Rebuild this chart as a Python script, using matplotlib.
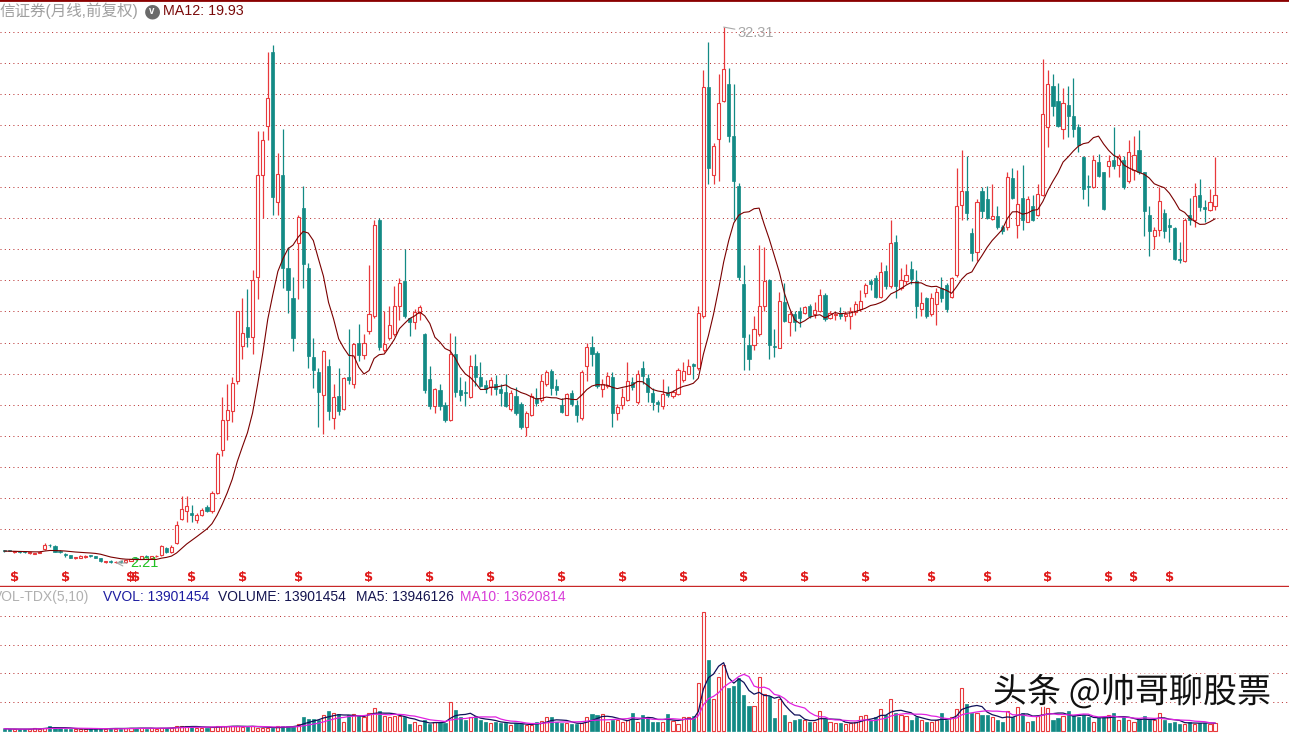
import numpy as np
import pandas as pd
import matplotlib
matplotlib.use('Agg')
import matplotlib.pyplot as plt
import matplotlib.patheffects as pe

plt.rcParams['font.family'] = ['Liberation Sans', 'Noto Sans CJK SC', 'DejaVu Sans']

# ---- monthly bars (prices, front-adjusted) ----
opens = [2.92, 2.90, 2.85, 2.85, 2.84, 2.78, 2.74, 2.80, 3.00, 3.22, 3.18, 2.85, 2.70, 2.65, 2.50, 2.52, 2.55, 2.62, 2.58, 2.48,
         2.28, 2.35, 2.24, 2.32, 2.25, 2.35, 2.50, 2.45, 2.62, 2.52, 2.58, 2.65, 3.05, 2.85, 3.35,
         4.68, 5.13, 5.02, 4.63, 4.91, 5.36, 5.13, 6.14, 8.56, 10.24, 10.75, 12.43, 14.40, 15.47, 14.90, 18.27,
         24.03, 26.78, 30.91, 22.49, 24.03, 18.78, 17.09, 20.18, 22.15, 18.78,
         13.78, 12.94, 11.65, 13.27, 10.36, 11.59, 10.86, 12.66, 12.27, 14.57,
         13.87, 15.24, 16.11, 21.47, 14.20, 14.85, 15.10, 16.65, 18.05, 15.99,
         15.75, 16.25, 15.09, 12.55, 11.03, 11.90, 11.06, 10.24, 13.95, 11.90,
         11.78, 11.53, 13.27, 12.66, 12.21, 12.10, 12.29, 11.98, 11.81, 10.88,
         11.59, 11.14, 9.85, 10.55, 11.48, 11.39, 12.29, 13.00, 12.15, 11.06,
         10.55, 11.78, 11.06, 10.36, 13.30, 14.34, 14.02, 11.98, 12.15, 12.66,
         10.64, 11.06, 11.39, 12.38, 11.25, 13.16, 12.60, 11.78, 11.25, 11.03,
         11.81, 11.59, 11.73, 12.49, 12.85, 13.36, 13.16, 16.11,
         28.94, 24.03, 26.03, 28.16, 29.13, 26.19, 23.38, 17.90, 14.46, 14.46, 15.09, 16.67,
         18.11, 14.40, 14.29, 16.87, 15.75, 16.17, 16.36, 16.25, 16.65, 16.17,
         16.36, 17.26, 15.97, 16.14, 16.25, 16.08, 16.08, 16.31, 16.48, 17.37,
         18.05, 18.22, 17.15, 18.61, 17.77, 20.24, 17.66, 18.05, 18.72, 18.05,
         16.48, 17.09, 16.17, 16.76, 17.66, 17.85, 17.15, 18.41, 22.29, 23.13,
         20.74, 19.68, 23.13, 22.63, 21.53, 21.70, 21.08, 21.08, 23.83, 21.22,
         22.71, 21.36, 22.26, 21.73, 22.88, 26.70, 29.00, 28.16, 26.59, 27.91,
         27.34, 26.70, 25.01, 23.38, 23.33, 24.73, 24.17, 24.53, 24.84, 24.59,
         24.84, 23.66, 24.28, 25.43, 24.17, 21.73, 20.58, 20.91, 21.87, 21.22,
         21.03, 19.31, 19.17, 21.73, 21.47, 22.88, 22.21, 22.04, 22.26]
highs = [2.95, 2.93, 2.90, 2.90, 2.89, 2.82, 2.80, 2.86, 3.35, 3.30, 3.22, 2.92, 2.77, 2.68, 2.55, 2.66, 2.66, 2.66, 2.62, 2.50,
         2.35, 2.38, 2.30, 2.35, 2.38, 2.45, 2.55, 2.62, 2.66, 2.62, 2.64, 3.20, 3.10, 3.20, 4.55,
         5.97, 5.97, 5.47, 5.02, 5.30, 5.45, 6.26, 8.45, 11.53, 12.27, 12.66, 16.36, 17.09, 17.60, 18.67, 26.47,
         26.47, 30.91, 31.30, 25.24, 26.59, 19.96, 18.27, 21.76, 23.38, 19.06,
         14.85, 13.16, 14.20, 13.67, 12.27, 13.16, 12.66, 15.35, 14.57, 15.63,
         15.07, 18.92, 21.47, 21.59, 16.36, 16.65, 17.77, 18.22, 19.82, 15.99,
         16.50, 16.70, 15.13, 13.27, 12.04, 12.29, 11.25, 15.15, 14.96, 12.66,
         12.43, 13.89, 13.95, 13.50, 12.49, 12.66, 12.77, 12.29, 12.85, 11.93,
         12.10, 11.25, 10.75, 11.76, 12.04, 12.80, 13.05, 13.11, 12.55, 11.48,
         11.78, 11.93, 11.39, 13.05, 14.57, 14.96, 14.12, 12.55, 12.94, 12.94,
         11.14, 12.04, 13.50, 12.66, 13.05, 13.56, 12.83, 12.04, 11.37, 12.55,
         12.15, 11.93, 13.18, 13.50, 13.69, 13.44, 16.65, 29.90,
         31.47, 25.80, 29.65, 32.31, 30.03, 29.13, 23.55, 18.92, 15.09, 16.11, 20.07, 19.96,
         18.16, 15.35, 17.43, 17.94, 16.36, 16.36, 16.59, 16.65, 16.76, 16.87,
         17.60, 17.37, 16.36, 16.31, 16.59, 16.36, 16.59, 16.93, 17.52, 17.95,
         18.16, 18.41, 19.12, 18.92, 21.47, 20.66, 18.78, 18.98, 19.17, 18.67,
         17.43, 17.15, 17.39, 17.66, 18.29, 17.95, 18.29, 24.40, 25.43, 25.07,
         21.03, 22.63, 23.33, 23.38, 23.47, 22.26, 21.22, 24.17, 24.40, 24.28,
         24.59, 22.82, 22.88, 23.52, 30.54, 29.90, 29.65, 29.19, 28.89, 29.00,
         29.45, 26.84, 25.07, 24.03, 25.10, 25.18, 24.17, 25.10, 26.70, 25.18,
         25.07, 25.94, 26.19, 26.53, 24.17, 22.26, 21.08, 23.33, 22.09, 21.59,
         21.08, 20.24, 21.59, 22.71, 23.55, 23.78, 22.60, 23.22, 25.01]
lows = [2.85, 2.86, 2.80, 2.80, 2.79, 2.74, 2.72, 2.78, 2.95, 3.12, 2.82, 2.78, 2.55, 2.50, 2.46, 2.50, 2.50, 2.55, 2.48, 2.28,
        2.22, 2.23, 2.21, 2.22, 2.22, 2.30, 2.38, 2.42, 2.50, 2.48, 2.55, 2.62, 2.80, 2.80, 3.30,
        4.63, 4.52, 4.52, 4.46, 4.85, 5.08, 5.02, 6.09, 8.22, 9.12, 10.13, 12.27, 13.67, 14.34, 13.95, 17.04,
        21.59, 25.97, 21.78, 21.78, 17.66, 16.25, 14.12, 17.01, 17.66, 13.16,
        12.04, 9.85, 9.48, 10.24, 9.74, 10.50, 10.80, 12.27, 12.04, 13.56,
        13.67, 15.10, 15.97, 14.20, 14.06, 14.74, 14.96, 15.86, 15.99, 14.96,
        15.35, 15.86, 11.76, 10.88, 10.64, 10.80, 10.13, 10.20, 11.53, 11.31,
        11.03, 11.48, 12.15, 12.10, 11.76, 11.65, 11.65, 11.03, 11.00, 10.75,
        10.50, 9.74, 9.34, 10.47, 11.03, 11.25, 12.15, 11.65, 11.65, 10.64,
        10.50, 11.03, 10.13, 10.24, 12.43, 13.30, 12.04, 11.53, 12.04, 9.85,
        10.24, 10.88, 11.31, 11.93, 11.14, 12.29, 11.25, 10.80, 10.69, 10.88,
        11.53, 11.48, 11.65, 12.38, 12.80, 12.55, 13.05, 15.97,
        23.52, 23.52, 23.66, 28.10, 25.86, 21.47, 18.11, 13.05, 13.05, 14.20, 14.96, 16.36,
        13.69, 13.78, 14.26, 15.75, 14.96, 15.24, 15.47, 16.20, 15.97, 15.97,
        16.31, 15.80, 15.92, 15.86, 15.92, 15.80, 15.35, 16.14, 16.36, 17.15,
        17.54, 17.09, 17.09, 17.60, 17.66, 17.09, 17.54, 17.90, 17.90, 15.97,
        16.11, 15.97, 16.08, 15.55, 16.87, 16.31, 17.09, 18.27, 21.47, 21.47,
        19.17, 19.17, 21.59, 21.53, 21.50, 20.97, 20.71, 20.91, 22.63, 20.46,
        20.91, 21.36, 21.42, 21.70, 22.82, 25.58, 27.34, 26.71, 26.02, 26.14,
        26.14, 25.30, 22.63, 22.26, 23.27, 23.89, 22.04, 23.89, 24.34, 23.89,
        23.22, 23.57, 23.72, 24.08, 20.58, 19.45, 19.82, 20.58, 20.46, 20.24,
        19.23, 19.06, 19.12, 21.22, 21.08, 21.98, 21.36, 21.98, 22.04]
closes = [2.88, 2.87, 2.85, 2.84, 2.83, 2.80, 2.79, 2.84, 3.25, 3.20, 2.85, 2.82, 2.68, 2.52, 2.54, 2.58, 2.62, 2.60, 2.50, 2.30,
          2.32, 2.24, 2.28, 2.25, 2.36, 2.42, 2.42, 2.58, 2.55, 2.60, 2.62, 3.15, 2.85, 3.12, 4.35,
          5.27, 5.41, 4.91, 4.91, 5.19, 5.13, 6.14, 8.34, 10.24, 10.80, 12.32, 16.36, 15.13, 14.90, 18.11, 24.03,
          25.97, 28.33, 22.77, 24.08, 18.78, 17.52, 14.85, 21.64, 19.00, 13.84,
          13.05, 11.81, 14.12, 10.75, 11.53, 10.75, 12.60, 12.49, 14.51, 13.89,
          14.57, 16.17, 21.22, 14.34, 14.53, 15.55, 16.65, 17.95, 16.11, 15.75,
          16.31, 16.59, 11.90, 11.03, 11.98, 11.03, 10.24, 13.95, 11.81, 11.65,
          11.76, 13.30, 12.66, 12.15, 11.98, 12.49, 11.98, 11.78, 11.03, 11.78,
          10.64, 9.85, 10.64, 11.59, 11.21, 12.43, 12.94, 12.04, 11.90, 10.69,
          11.73, 11.14, 10.50, 12.94, 14.34, 13.95, 12.15, 12.29, 12.71, 10.64,
          10.97, 11.53, 12.43, 12.10, 12.85, 12.74, 11.81, 11.25, 11.14, 11.73,
          11.65, 11.81, 13.05, 13.00, 13.30, 13.30, 16.25, 28.94,
          24.40, 25.63, 28.05, 29.96, 26.19, 23.66, 18.27, 14.90, 13.69, 15.35, 16.67, 18.05,
          14.46, 14.34, 16.93, 15.80, 16.17, 15.75, 15.97, 16.59, 16.11, 16.42,
          17.26, 15.92, 16.25, 16.17, 16.08, 16.17, 16.36, 16.76, 16.93, 17.85,
          17.90, 17.15, 18.56, 17.77, 20.18, 17.77, 18.11, 18.41, 18.16, 16.65,
          16.81, 16.08, 17.09, 17.43, 17.09, 16.48, 18.22, 22.26, 23.13, 21.87,
          19.62, 22.49, 21.98, 21.59, 21.70, 21.08, 20.86, 23.89, 22.71, 22.37,
          21.47, 22.63, 21.47, 22.96, 27.40, 29.13, 27.88, 26.78, 28.05, 27.34,
          26.59, 25.69, 23.22, 23.33, 24.84, 23.97, 22.12, 24.79, 24.51, 25.07,
          23.33, 25.30, 25.10, 24.17, 21.98, 20.86, 20.91, 22.54, 20.86, 21.08,
          19.31, 19.23, 21.47, 21.47, 22.82, 22.21, 22.12, 22.49, 22.88]

# volume, millions of shares
volumes = [4, 3, 3, 3, 3, 4, 5, 4, 6, 8, 6, 5, 4, 4, 3, 3, 3, 3, 4, 5, 4, 5, 4, 4, 5, 6, 5, 5, 4, 5, 4, 6, 5, 6, 9,
           8, 9, 7, 6, 6, 6, 7, 8, 9, 8, 9, 8, 7, 8, 9, 6,
           5, 5, 5, 8, 8, 9, 8, 12, 24, 21,
           21, 19, 28, 34, 31, 30, 16, 28, 30, 28,
           24, 31, 40, 34, 26, 24, 26, 26, 24, 12,
           16, 10, 19, 12, 16, 16, 14, 51, 36, 24,
           19, 24, 26, 19, 16, 14, 16, 14, 14, 10,
           14, 12, 10, 10, 16, 17, 24, 24, 16, 14,
           14, 12, 12, 14, 24, 30, 28, 30, 16, 19,
           19, 16, 19, 31, 16, 28, 24, 16, 16, 16,
           30, 17, 12, 24, 24, 26, 83, 207,
           124, 55, 94, 114, 75, 78, 92, 63, 44, 43, 94, 65,
           60, 23, 55, 27, 16, 19, 21, 19, 16, 16,
           35, 21, 16, 14, 14, 12, 14, 16, 26, 28,
           19, 24, 38, 28, 55, 31, 28, 26, 19, 24,
           19, 16, 16, 19, 31, 19, 24, 38, 75, 47,
           31, 31, 28, 28, 24, 19, 16, 35, 24, 42,
           31, 16, 17, 26, 49, 40, 19, 22, 26, 35,
           27, 24, 27, 24, 16, 24, 24, 27, 31, 19,
           24, 19, 16, 19, 26, 19, 19, 31, 19, 14,
           15, 13, 12, 16, 13, 14, 14, 13, 13.9]

# bars carrying the red "$" (dividend) flag
div_bars = [2, 12, 25, 26, 37, 47, 58, 72, 84, 96, 110, 122, 134, 146, 158, 170, 183, 194, 206, 218, 223, 230]

RED = '#e8393c'
TEAL = '#138a85'
GRID = '#b83030'

o = np.array(opens)
h = np.array(highs)
l = np.array(lows)
c = np.array(closes)
v = np.array(volumes, dtype=float)
x = np.arange(len(c))
up = c >= o

W, H = 1289, 733
fig = plt.figure(figsize=(W / 100, H / 100), dpi=100)
fig.patch.set_facecolor('white')

ax = fig.add_axes([0, 147 / H, 1, 586 / H])
axv = fig.add_axes([0, 0, 1, 146 / H])

xlim = (-0.85, 253.6)
for a in (ax, axv):
    a.set_xlim(*xlim)
    a.set_xticks([])
    a.tick_params(left=False, bottom=False, labelleft=False, labelbottom=False)
    for s in a.spines.values():
        s.set_visible(False)

# ---- price panel ----
ax.set_ylim(0.92, 33.83)
ax.set_yticks(32.06 - 1.7466 * np.arange(17))
ax.grid(axis='y', color=GRID, linestyle=(0, (1, 3.3)), linewidth=0.72)
ax.set_axisbelow(True)

body_lo = np.minimum(o, c)
body_h = np.maximum(np.abs(c - o), 0.05)
ax.vlines(x[up], l[up], h[up], color=RED, lw=0.9, zorder=2)
ax.vlines(x[~up], l[~up], h[~up], color=TEAL, lw=0.9, zorder=2)
ax.bar(x[up], body_h[up], bottom=body_lo[up], width=0.62, facecolor='white',
       edgecolor=RED, linewidth=0.8, zorder=3)
ax.bar(x[~up], body_h[~up], bottom=body_lo[~up], width=0.62, facecolor=TEAL,
       edgecolor=TEAL, linewidth=0.5, zorder=3)

ma12 = pd.Series(c).rolling(12, min_periods=1).mean()
ax.plot(x, ma12, color='#7a0000', lw=0.8, zorder=4)

for i in div_bars:
    ax.text(i, 1.37, '$', color='#e01818', fontsize=9.5, fontweight='bold',
            ha='center', va='center', family='DejaVu Sans')

imax = int(np.argmax(h))
ax.annotate(f'{h[imax]:.2f}', xy=(imax, h[imax]), xytext=(14, -6), textcoords='offset pixels',
            color='#a8a8a8', fontsize=10.5, va='center',
            arrowprops=dict(arrowstyle='-', color='#a8a8a8', lw=0.8, shrinkA=0, shrinkB=0))
imin = int(np.argmin(l))
ax.annotate(f'{l[imin]:.2f}', xy=(imin, l[imin]), xytext=(14, 0), textcoords='offset pixels',
            color='#22c022', fontsize=10.5, va='center',
            arrowprops=dict(arrowstyle='->', color='#a8a8a8', lw=0.8, shrinkA=0, shrinkB=0))

ax.spines['top'].set_visible(True)
ax.spines['top'].set_color('#8a0000')
ax.spines['top'].set_linewidth(2)
ax.spines['bottom'].set_visible(True)
ax.spines['bottom'].set_color('#c82828')
ax.spines['bottom'].set_linewidth(1)

# ---- volume panel ----
axv.set_ylim(-3.5, 250.4)
axv.set_yticks([50, 100, 150, 200])
axv.grid(axis='y', color=GRID, linestyle=(0, (1, 3.3)), linewidth=0.72)
axv.set_axisbelow(True)
axv.bar(x[up], v[up], width=0.62, facecolor='white', edgecolor=RED, linewidth=0.8, zorder=3)
axv.bar(x[~up], v[~up], width=0.62, facecolor=TEAL, edgecolor=TEAL, linewidth=0.5, zorder=3)
vs = pd.Series(v)
axv.plot(x, vs.rolling(5, min_periods=1).mean(), color='#10105a', lw=0.9, zorder=4)
axv.plot(x, vs.rolling(10, min_periods=1).mean(), color='#e020e0', lw=0.9, zorder=4)

# ---- header texts ----
def px(xp, yp):
    return xp / W, 1 - yp / H

fig.text(*px(0, 11), '信证券(月线,前复权)', color='#a0a0a0', fontsize=11.2, va='center')
fig.text(*px(152, 11), '●', color='#6a6a6a', fontsize=14, va='center', ha='center', family='DejaVu Sans')
fig.text(*px(152, 11.5), 'v', color='white', fontsize=7, va='center', ha='center', fontweight='bold')
fig.text(*px(163, 11), 'MA12: 19.93', color='#7a0a0a', fontsize=10.3, va='center')

fig.text(*px(-7, 597), 'VOL-TDX(5,10)', color='#b0b0b0', fontsize=10, va='center')
fig.text(*px(103, 597), 'VVOL: 13901454', color='#1c1ca0', fontsize=10, va='center')
fig.text(*px(218, 597), 'VOLUME: 13901454', color='#141450', fontsize=10, va='center')
fig.text(*px(356, 597), 'MA5: 13946126', color='#141450', fontsize=10, va='center')
fig.text(*px(460, 597), 'MA10: 13620814', color='#d83cd8', fontsize=10, va='center')

fig.text(*px(993, 693), '头条 @帅哥聊股票', color='#111111', fontsize=24.5, va='center',
         family=['Noto Sans CJK SC', 'DejaVu Sans'],
         path_effects=[pe.withStroke(linewidth=3, foreground='white')])

fig.savefig('out.png', dpi=100, facecolor='white')
